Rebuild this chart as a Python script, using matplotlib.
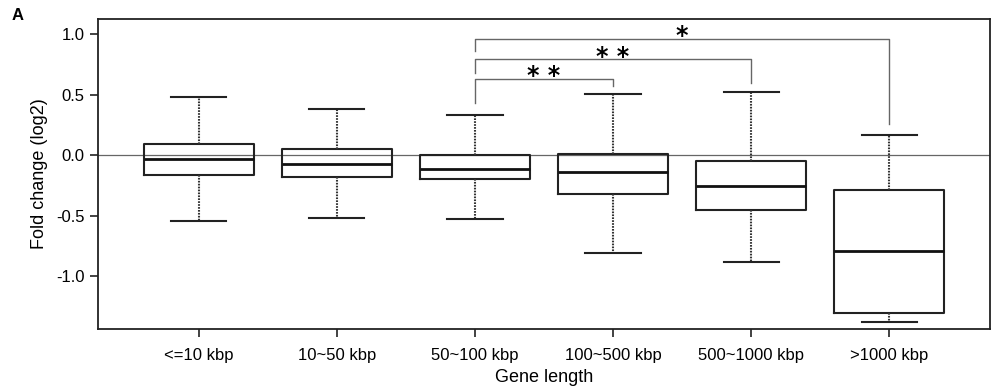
import matplotlib.pyplot as plt
import numpy as np

plt.rcParams['font.family'] = ['Liberation Sans', 'DejaVu Sans']

categories = ['<=10 kbp', '10~50 kbp', '50~100 kbp', '100~500 kbp', '500~1000 kbp', '>1000 kbp']
whislo = [-0.54, -0.52, -0.53, -0.81, -0.88, -1.38]
q1 = [-0.16, -0.18, -0.20, -0.32, -0.455, -1.305]
med = [-0.03, -0.07, -0.11, -0.14, -0.255, -0.79]
q3 = [0.095, 0.05, 0.005, 0.01, -0.045, -0.29]
whishi = [0.48, 0.385, 0.335, 0.505, 0.52, 0.165]

# significance brackets: (left, right, bar height, left leg end, right leg end, label)
brackets = [
    (3, 4, 0.63, 0.43, 0.57, '* *'),
    (3, 5, 0.79, 0.68, 0.60, '* *'),
    (3, 6, 0.96, 0.86, 0.26, '*'),
]

stats = []
for i in range(len(categories)):
    stats.append(dict(whislo=whislo[i], q1=q1[i], med=med[i], q3=q3[i],
                      whishi=whishi[i], fliers=[]))

fig = plt.figure(figsize=(9.93, 3.87), dpi=100)
ax = fig.add_axes([98 / 993, 1 - 329 / 387, (990 - 98) / 993, (329 - 19) / 387])

pos = np.arange(1, len(categories) + 1)
ax.axhline(0, color='#666666', lw=0.9, zorder=1)
ax.bxp(stats, positions=pos, widths=0.8, showfliers=False, patch_artist=False,
       boxprops=dict(color='#222222', lw=1.5),
       medianprops=dict(color='#111111', lw=2.0),
       whiskerprops=dict(color='#333333', lw=1.5, linestyle=(0, (0.8, 0.6))),
       capprops=dict(color='#222222', lw=1.5), capwidths=0.4, zorder=2)

for a, b, h, la, lb, lab in brackets:
    ax.plot([a, a, b, b], [la, h, h, lb], color='#666666', lw=1.0)
    ax.text((a + b) / 2, h - 0.075, lab, ha='center', va='bottom',
            fontsize=17, fontweight='bold', family='DejaVu Sans')

ax.set_xlim(0.27, 6.73)
ax.set_ylim(-1.434, 1.124)
ax.set_yticks([-1.0, -0.5, 0.0, 0.5, 1.0])
ax.set_yticklabels(['-1.0', '-0.5', '0.0', '0.5', '1.0'])
ax.set_xticks(pos)
ax.set_xticklabels(categories)
ax.tick_params(axis='both', labelsize=12, width=1.2, length=6, color='#222222')
ax.tick_params(axis='x', pad=8)
for s in ax.spines.values():
    s.set_linewidth(1.3)
    s.set_color('#222222')
ax.set_ylabel('Fold change (log2)', fontsize=13, labelpad=6)
ax.set_xlabel('Gene length', fontsize=13, labelpad=4)
fig.text(12 / 993, 1 - 16 / 387, 'A', fontsize=12, fontweight='bold', va='center')

fig.savefig('out.png', dpi=100)
